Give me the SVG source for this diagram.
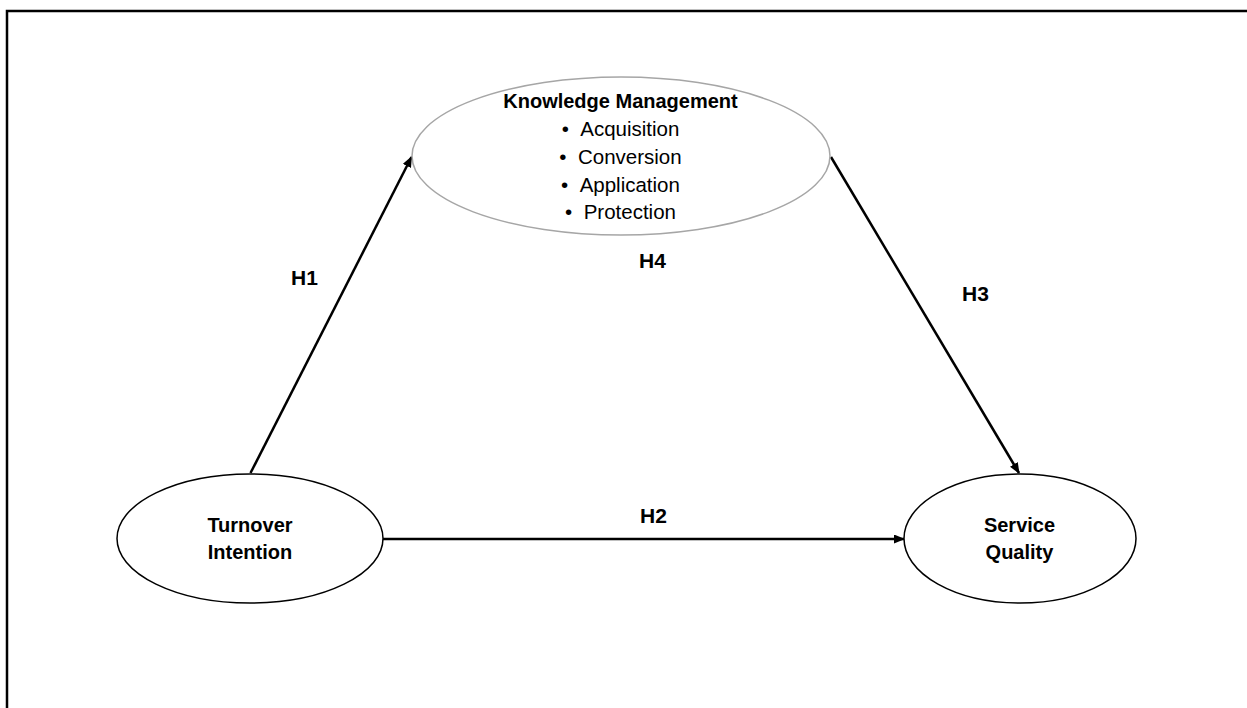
<svg xmlns="http://www.w3.org/2000/svg" width="1247" height="708" viewBox="0 0 1247 708">
<defs>
<style>
.node{fill:#fff;stroke:#000;stroke-width:1.5}
.km{fill:#fff;stroke:#a6a6a6;stroke-width:1.5}
.lbl{font-family:"Liberation Sans",Arial,sans-serif;font-weight:bold;font-size:20px;fill:#000;text-anchor:middle}
.item{font-family:"Liberation Sans",Arial,sans-serif;font-size:20.5px;fill:#000;text-anchor:middle}
.h{font-family:"Liberation Sans",Arial,sans-serif;font-weight:bold;font-size:21px;fill:#000}
.edge{stroke:#000;stroke-width:2.5;fill:none;marker-end:url(#arr)}
</style>
<marker id="arr" markerUnits="userSpaceOnUse" markerWidth="11" markerHeight="9" refX="10" refY="4.5" orient="auto">
<path d="M0,0 L11,4.5 L0,9 z" fill="#000"/>
</marker>
</defs>
<rect width="1247" height="708" fill="#fff"/>
<rect x="7" y="11" width="1260" height="720" fill="none" stroke="#000" stroke-width="2.5"/>
<g id="connectors">
<line class="edge" x1="250.5" y1="473" x2="411.5" y2="157"/>
<line class="edge" x1="831" y1="157" x2="1019" y2="473"/>
<line class="edge" x1="383" y1="539" x2="904" y2="539"/>
<text class="h" x="291" y="285">H1</text>
<text class="h" x="639" y="268">H4</text>
<text class="h" x="962" y="301">H3</text>
<text class="h" x="640" y="523">H2</text>
</g>
<g id="knowledge-management">
<ellipse class="km" cx="621" cy="156" rx="209" ry="79"/>
<text class="lbl" x="620.5" y="108" font-size="20.5">Knowledge Management</text>
<text class="item" x="620.5" y="136">•&#160;&#160;Acquisition</text>
<text class="item" x="620.5" y="164">•&#160;&#160;Conversion</text>
<text class="item" x="620.5" y="192">•&#160;&#160;Application</text>
<text class="item" x="620.5" y="219">•&#160;&#160;Protection</text>
</g>
<g id="turnover-intention">
<ellipse class="node" cx="250" cy="538.5" rx="133" ry="64.5"/>
<text class="lbl" x="250" y="532">Turnover</text>
<text class="lbl" x="250" y="559">Intention</text>
</g>
<g id="service-quality">
<ellipse class="node" cx="1020" cy="538.5" rx="116" ry="64.5"/>
<text class="lbl" x="1019.5" y="532">Service</text>
<text class="lbl" x="1019.5" y="559">Quality</text>
</g>
</svg>
